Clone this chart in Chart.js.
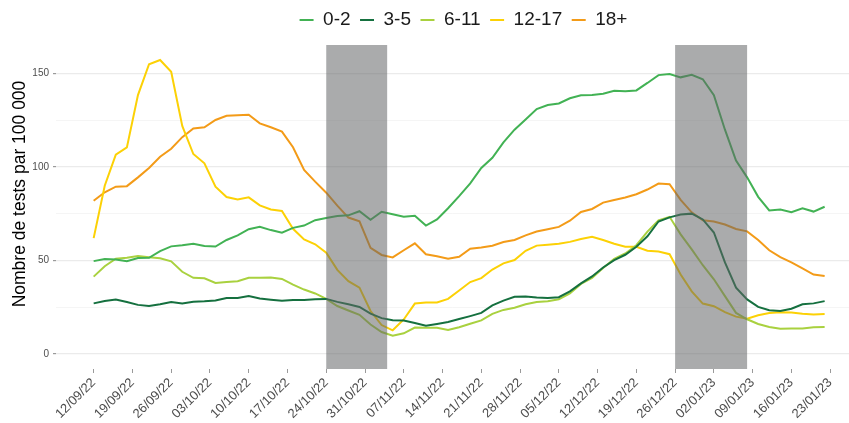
<!DOCTYPE html>
<html lang="fr">
<head>
<meta charset="utf-8">
<title>Taux de tests par tranche d'âge</title>
<script src="https://cdn.jsdelivr.net/npm/chart.js@4.4.1/dist/chart.umd.min.js"></script>
<style>
  html, body { margin: 0; padding: 0; background: #fff; }
  #wrap { width: 849px; height: 423px; position: relative; }
</style>
</head>
<body>
<div id="wrap"><canvas id="testsChart"></canvas></div>
<script>
// --- données : un point tous les 2 jours à partir du 12/09/22 ---
const STEP_DAYS = 2;

const ageGroups = ['0-2', '3-5', '6-11', '12-17', '18+'];
const groupColors = ['#42b254', '#15703f', '#a9d13f', '#fcd105', '#f39b18'];

const tests0_2 = [49.7, 50.8, 50.6, 49.6, 51.4, 51.5, 55.1, 57.6, 58.2, 59,
  57.8, 57.5, 61, 63.5, 66.8, 68.1, 66.3, 64.9, 67.5, 68.7,
  71.6, 72.8, 73.8, 74.2, 76.4, 71.8, 76.1, 74.8, 73.5, 74,
  68.7, 72, 78, 84.5, 91.3, 99.5, 105, 113.2, 120, 125.5,
  131, 133.2, 134, 136.8, 138.4, 138.5, 139.2, 140.8, 140.5, 141,
  145, 149.2, 149.8, 148, 149.4, 147, 138.5, 120, 103.5, 94.5,
  84.1, 76.8, 77.3, 75.9, 78, 76.2, 78.8];

const tests3_5 = [27.1, 28.4, 29.2, 27.8, 26.3, 25.7, 26.6, 27.8, 27, 28,
  28.2, 28.6, 30, 30, 31, 29.7, 29.1, 28.5, 28.9, 28.9,
  29.3, 29.5, 27.9, 26.6, 25.2, 21.6, 19.2, 18.1, 17.9, 16.6,
  15.2, 16.1, 17.1, 18.7, 20.3, 22, 26, 28.6, 30.6, 30.8,
  30.3, 30, 30.4, 33.5, 37.8, 41.5, 46.3, 50.2, 53.1, 57.4,
  63, 70.9, 73.1, 74.6, 75.1, 72, 65, 49, 35.5, 29.2,
  25.2, 23.4, 23, 24.2, 26.6, 27.1, 28.3];

const tests6_11 = [41.4, 47, 51, 51.5, 52.5, 51.8, 51.2, 49.6, 44, 40.8,
  40.5, 38, 38.5, 38.9, 40.8, 40.8, 41, 40.2, 37.1, 34.5,
  32.4, 29.5, 25.7, 23.3, 21, 15.8, 11.8, 9.8, 11.1, 14.2,
  14.1, 14.1, 12.9, 14.3, 16.2, 18, 21.5, 23.6, 24.8, 26.6,
  27.8, 28.2, 29.3, 32.4, 37.5, 40.7, 46, 50.9, 53.8, 58.2,
  65.5, 71.5, 73.4, 64, 56, 47.5, 40, 31, 22, 18.6,
  16.1, 14.5, 13.5, 13.6, 13.7, 14.3, 14.4];

const tests12_17 = [62, 90, 106.7, 110.5, 138.5, 155, 157.3, 151, 122, 107,
  102, 89.5, 84, 82.7, 83.8, 79.5, 77.3, 76.5, 67, 61.3,
  58.7, 54.2, 45, 39, 35.5, 23, 15.5, 12.7, 18.5, 27,
  27.6, 27.6, 29.5, 34, 38.5, 40.6, 45.2, 48.5, 50.3, 55.2,
  58, 58.5, 59, 60, 61.5, 62.7, 61, 59, 57.4, 57.4,
  55.3, 54.8, 53.4, 42.5, 33.5, 27, 25.6, 22.4, 20, 18.9,
  20.7, 22, 22.3, 22.2, 21.6, 21.2, 21.4];

const tests18plus = [82, 86.5, 89.5, 89.8, 94.5, 99.5, 105.5, 109.8, 116, 120.7,
  121.3, 125.2, 127.4, 127.7, 128, 123.4, 121.3, 119, 110.6, 98.5,
  92.2, 86.3, 79.4, 73, 71, 56.8, 53, 51.7, 55.5, 59.2,
  53.4, 52.3, 51, 52, 56.3, 57, 57.9, 59.9, 61, 63.5,
  65.5, 66.8, 68, 71.3, 76, 77.6, 81, 82.4, 83.7, 85.5,
  88, 91.2, 90.8, 82.5, 75.8, 71.5, 70.9, 69.3, 66.9, 65.6,
  61, 55.5, 51.8, 49, 45.8, 42.5, 41.7];

// vacances scolaires (en jours depuis le 12/09/22)
const holidayStart = [42, 105];
const holidayEnd = [53, 118];

// axe des dates : une étiquette par lundi
const dateLabels = ['12/09/22', '19/09/22', '26/09/22', '03/10/22', '10/10/22',
  '17/10/22', '24/10/22', '31/10/22', '07/11/22', '14/11/22', '21/11/22',
  '28/11/22', '05/12/22', '12/12/22', '19/12/22', '26/12/22', '02/01/23',
  '09/01/23', '16/01/23', '23/01/23'];
const dateTickDays = dateLabels.map((_, i) => i * 7);

const yMajorTicks = [0, 50, 100, 150];
const yMinorTicks = [25, 75, 125];

const FONT = '"Liberation Sans", Arial, sans-serif';

function toPoints(values) {
  return values.map((v, i) => ({ x: i * STEP_DAYS, y: v }));
}

const seriesValues = [tests0_2, tests3_5, tests6_11, tests12_17, tests18plus];

// --- plugins ---

// bandes grises des vacances, posées par-dessus les courbes
const holidayBands = {
  id: 'holidayBands',
  afterDatasetsDraw(chart) {
    const { ctx, chartArea, scales } = chart;
    ctx.save();
    ctx.fillStyle = 'rgba(100, 102, 104, 0.55)';
    holidayStart.forEach((start, i) => {
      const x0 = scales.x.getPixelForValue(start);
      const x1 = scales.x.getPixelForValue(holidayEnd[i]);
      ctx.fillRect(x0, chartArea.top, x1 - x0, chartArea.bottom - chartArea.top);
    });
    ctx.restore();
  }
};

// titre de l'axe Y
const yAxisTitle = {
  id: 'yAxisTitle',
  afterDraw(chart) {
    const { ctx } = chart;
    ctx.save();
    ctx.translate(20, 194);
    ctx.rotate(-Math.PI / 2);
    ctx.font = '17.5px ' + FONT;
    ctx.fillStyle = '#000';
    ctx.textAlign = 'center';
    ctx.textBaseline = 'middle';
    ctx.fillText('Nombre de tests par 100 000', 0, 0);
    ctx.restore();
  }
};

// espace sous la légende et légende centrée sur le panneau
const legendPlacement = {
  id: 'legendPlacement',
  beforeInit(chart) {
    const legend = chart.legend;
    if (!legend) return;
    const fit = legend.fit;
    legend.fit = function () {
      fit.call(this);
      this.height += 5.5;
    };
  },
  afterLayout(chart) {
    const legend = chart.legend;
    if (!legend) return;
    legend.left += 39;
    legend.right += 39;
  }
};

document.addEventListener('DOMContentLoaded', () => {
  const ctx = document.getElementById('testsChart').getContext('2d');

  const datasets = ageGroups.map((name, i) => ({
    label: name,
    data: toPoints(seriesValues[i]),
    borderColor: groupColors[i],
    backgroundColor: groupColors[i],
    borderWidth: 2,
    pointRadius: 0,
    tension: 0
  }));

  new Chart(ctx, {
    type: 'line',
    data: { datasets },
    options: {
      responsive: true,
      maintainAspectRatio: false,
      devicePixelRatio: 1,
      animation: false,
      layout: { padding: { top: 1, right: 0, left: 0, bottom: 0 } },
      plugins: {
        tooltip: { enabled: false },
        legend: {
          position: 'top',
          labels: {
            boxWidth: 14,
            boxHeight: 2,
            padding: 9.5,
            color: '#1a1a1a',
            font: { size: 19, family: FONT },
            generateLabels(chart) {
              return Chart.defaults.plugins.legend.labels.generateLabels(chart)
                .map(item => ({ ...item, lineWidth: 0 }));
            }
          }
        }
      },
      scales: {
        x: {
          type: 'linear',
          min: -6.8,
          max: 136.4,
          border: { display: false },
          grid: { drawOnChartArea: false, drawTicks: true, tickLength: 4, tickColor: '#9a9a9a' },
          afterBuildTicks(scale) {
            scale.ticks = dateTickDays.map(v => ({ value: v }));
          },
          afterFit(scale) { scale.height = 54; },
          ticks: {
            autoSkip: false,
            minRotation: 45,
            maxRotation: 45,
            padding: 2,
            color: '#4d4d4d',
            font: { size: 13, family: FONT },
            callback: (value, index) => dateLabels[index]
          }
        },
        y: {
          type: 'linear',
          min: -8,
          max: 165.3,
          border: { display: false },
          grid: {
            drawTicks: true,
            tickLength: 3,
            color: ctx => yMajorTicks.includes(ctx.tick.value) ? '#ebebeb' : '#f3f3f3',
            lineWidth: ctx => yMajorTicks.includes(ctx.tick.value) ? 1.2 : 0.8,
            tickColor: ctx => yMajorTicks.includes(ctx.tick.value) ? '#9a9a9a' : 'rgba(0,0,0,0)'
          },
          afterBuildTicks(scale) {
            scale.ticks = yMajorTicks.concat(yMinorTicks)
              .sort((a, b) => a - b)
              .map(v => ({ value: v }));
          },
          afterFit(scale) { scale.width = 56; },
          ticks: {
            padding: 4,
            color: '#4d4d4d',
            font: { size: 10, family: FONT },
            callback: value => yMajorTicks.includes(value) ? String(value) : ''
          }
        }
      }
    },
    plugins: [holidayBands, yAxisTitle, legendPlacement]
  });
});
</script>
</body>
</html>
